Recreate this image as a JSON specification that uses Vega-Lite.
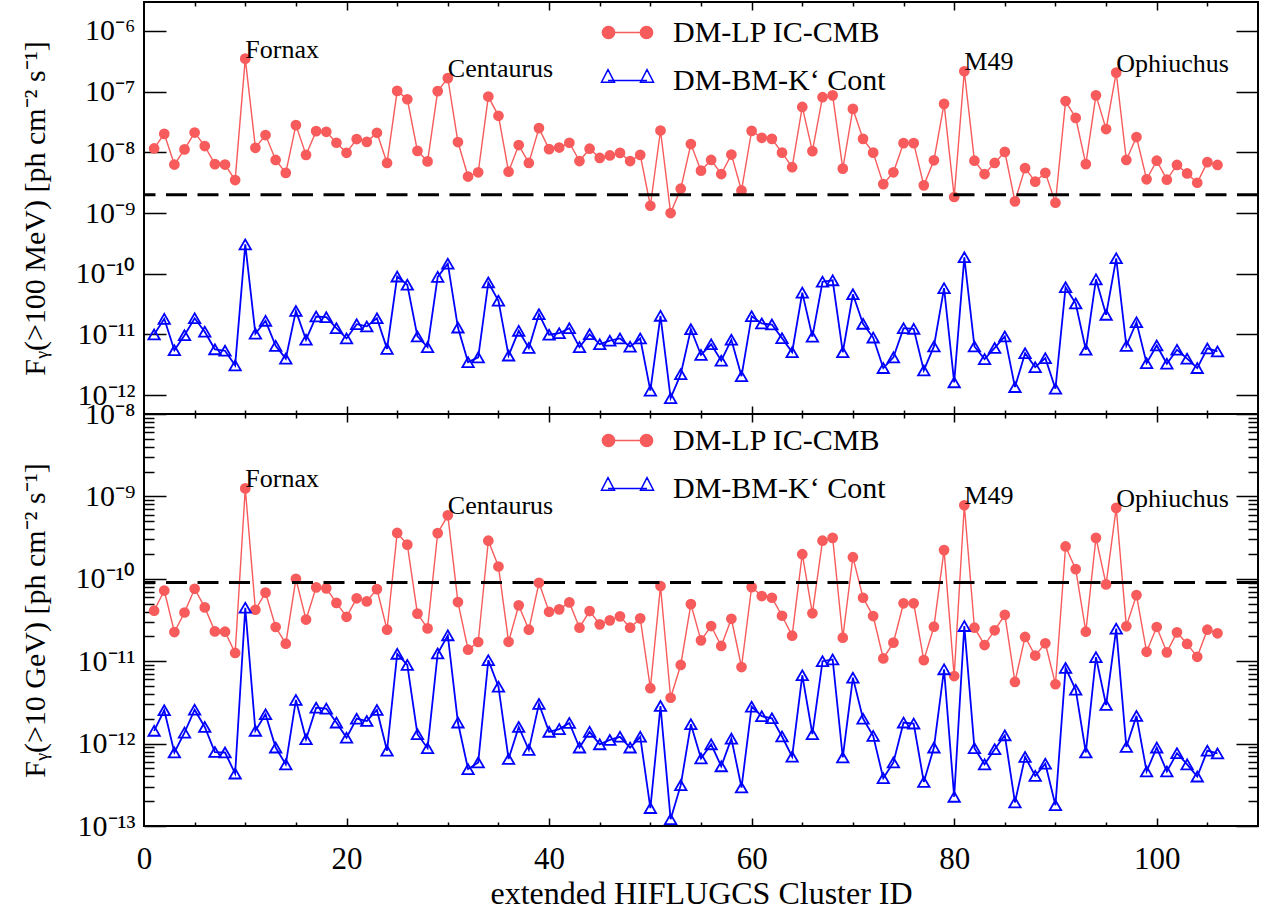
{
  "$schema": "https://vega.github.io/schema/vega-lite/v6.json",
  "background": "white",
  "padding": {"left": 18, "top": 0, "right": 5, "bottom": 2},
  "spacing": 0,
  "bounds": "flush",
  "datasets": {
    "d": [
      {"id":1,"lp100":1.16e-8,"bm100":1.0e-11,"lp10":4.1e-11,"bm10":1.43e-12},
      {"id":2,"lp100":2.02e-8,"bm100":1.81e-11,"lp10":7.2e-11,"bm10":2.54e-12},
      {"id":3,"lp100":6.3e-9,"bm100":5.5e-12,"lp10":2.26e-11,"bm10":7.8e-13},
      {"id":4,"lp100":1.12e-8,"bm100":9.75e-12,"lp10":3.9e-11,"bm10":1.36e-12},
      {"id":5,"lp100":2.12e-8,"bm100":1.85e-11,"lp10":7.57e-11,"bm10":2.58e-12},
      {"id":6,"lp100":1.27e-8,"bm100":1.11e-11,"lp10":4.5e-11,"bm10":1.59e-12},
      {"id":7,"lp100":6.4e-9,"bm100":5.7e-12,"lp10":2.3e-11,"bm10":7.9e-13},
      {"id":8,"lp100":6.3e-9,"bm100":5.4e-12,"lp10":2.28e-11,"bm10":7.8e-13},
      {"id":9,"lp100":3.5e-9,"bm100":3.1e-12,"lp10":1.26e-11,"bm10":4.33e-13},
      {"id":10,"lp100":3.5e-7,"bm100":3.05e-10,"lp10":1.25e-9,"bm10":4.45e-11,"name":"Fornax"},
      {"id":11,"lp100":1.19e-8,"bm100":1.03e-11,"lp10":4.21e-11,"bm10":1.43e-12},
      {"id":12,"lp100":1.93e-8,"bm100":1.68e-11,"lp10":6.8e-11,"bm10":2.27e-12},
      {"id":13,"lp100":7.5e-9,"bm100":6.5e-12,"lp10":2.6e-11,"bm10":8.95e-13},
      {"id":14,"lp100":4.6e-9,"bm100":4.0e-12,"lp10":1.63e-11,"bm10":5.6e-13},
      {"id":15,"lp100":2.81e-8,"bm100":2.45e-11,"lp10":1.0e-10,"bm10":3.39e-12},
      {"id":16,"lp100":9.1e-9,"bm100":8.2e-12,"lp10":3.2e-11,"bm10":1.13e-12},
      {"id":17,"lp100":2.24e-8,"bm100":1.98e-11,"lp10":7.87e-11,"bm10":2.73e-12},
      {"id":18,"lp100":2.18e-8,"bm100":1.93e-11,"lp10":7.66e-11,"bm10":2.66e-12},
      {"id":19,"lp100":1.44e-8,"bm100":1.27e-11,"lp10":5.1e-11,"bm10":1.8e-12},
      {"id":20,"lp100":9.85e-9,"bm100":8.6e-12,"lp10":3.46e-11,"bm10":1.18e-12},
      {"id":21,"lp100":1.66e-8,"bm100":1.48e-11,"lp10":5.8e-11,"bm10":2.01e-12},
      {"id":22,"lp100":1.49e-8,"bm100":1.36e-11,"lp10":5.32e-11,"bm10":1.88e-12},
      {"id":23,"lp100":2.1e-8,"bm100":1.85e-11,"lp10":7.5e-11,"bm10":2.56e-12},
      {"id":24,"lp100":6.7e-9,"bm100":5.8e-12,"lp10":2.41e-11,"bm10":8.2e-13},
      {"id":25,"lp100":1.03e-7,"bm100":9.0e-11,"lp10":3.6e-10,"bm10":1.23e-11},
      {"id":26,"lp100":7.5e-8,"bm100":6.6e-11,"lp10":2.6e-10,"bm10":9.0e-12},
      {"id":27,"lp100":1.06e-8,"bm100":9.3e-12,"lp10":3.78e-11,"bm10":1.3e-12},
      {"id":28,"lp100":7.1e-9,"bm100":6.2e-12,"lp10":2.5e-11,"bm10":8.8e-13},
      {"id":29,"lp100":1.02e-7,"bm100":8.9e-11,"lp10":3.58e-10,"bm10":1.24e-11},
      {"id":30,"lp100":1.67e-7,"bm100":1.47e-10,"lp10":5.9e-10,"bm10":2.06e-11,"name":"Centaurus"},
      {"id":31,"lp100":1.48e-8,"bm100":1.3e-11,"lp10":5.22e-11,"bm10":1.8e-12},
      {"id":32,"lp100":4.0e-9,"bm100":3.5e-12,"lp10":1.38e-11,"bm10":4.9e-13},
      {"id":33,"lp100":4.7e-9,"bm100":4.2e-12,"lp10":1.71e-11,"bm10":5.9e-13},
      {"id":34,"lp100":8.3e-8,"bm100":7.2e-11,"lp10":2.9e-10,"bm10":1.03e-11},
      {"id":35,"lp100":4.0e-8,"bm100":3.6e-11,"lp10":1.41e-10,"bm10":4.9e-12},
      {"id":36,"lp100":4.8e-9,"bm100":4.5e-12,"lp10":1.72e-11,"bm10":6.5e-13},
      {"id":37,"lp100":1.32e-8,"bm100":1.15e-11,"lp10":4.76e-11,"bm10":1.59e-12},
      {"id":38,"lp100":6.7e-9,"bm100":6.0e-12,"lp10":2.41e-11,"bm10":8.4e-13},
      {"id":39,"lp100":2.51e-8,"bm100":2.16e-11,"lp10":8.95e-11,"bm10":3.03e-12},
      {"id":40,"lp100":1.13e-8,"bm100":9.9e-12,"lp10":3.98e-11,"bm10":1.39e-12},
      {"id":41,"lp100":1.2e-8,"bm100":1.05e-11,"lp10":4.26e-11,"bm10":1.5e-12},
      {"id":42,"lp100":1.44e-8,"bm100":1.27e-11,"lp10":5.17e-11,"bm10":1.78e-12},
      {"id":43,"lp100":7.2e-9,"bm100":6.2e-12,"lp10":2.55e-11,"bm10":8.95e-13},
      {"id":44,"lp100":1.15e-8,"bm100":1.01e-11,"lp10":4.06e-11,"bm10":1.39e-12},
      {"id":45,"lp100":8.1e-9,"bm100":6.9e-12,"lp10":2.8e-11,"bm10":9.8e-13},
      {"id":46,"lp100":8.9e-9,"bm100":7.9e-12,"lp10":3.13e-11,"bm10":1.11e-12},
      {"id":47,"lp100":9.8e-9,"bm100":8.6e-12,"lp10":3.5e-11,"bm10":1.21e-12},
      {"id":48,"lp100":7.2e-9,"bm100":6.3e-12,"lp10":2.55e-11,"bm10":8.95e-13},
      {"id":49,"lp100":9.1e-9,"bm100":8.6e-12,"lp10":3.31e-11,"bm10":1.21e-12},
      {"id":50,"lp100":1.32e-9,"bm100":1.19e-12,"lp10":4.7e-12,"bm10":1.65e-13},
      {"id":51,"lp100":2.29e-8,"bm100":2.03e-11,"lp10":8.16e-11,"bm10":2.86e-12},
      {"id":52,"lp100":1.0e-9,"bm100":8.95e-13,"lp10":3.6e-12,"bm10":1.21e-13},
      {"id":53,"lp100":2.52e-9,"bm100":2.22e-12,"lp10":9.0e-12,"bm10":3.13e-13},
      {"id":54,"lp100":1.37e-8,"bm100":1.22e-11,"lp10":4.93e-11,"bm10":1.72e-12},
      {"id":55,"lp100":5.0e-9,"bm100":4.6e-12,"lp10":1.79e-11,"bm10":6.6e-13},
      {"id":56,"lp100":7.5e-9,"bm100":6.9e-12,"lp10":2.67e-11,"bm10":9.8e-13},
      {"id":57,"lp100":4.4e-9,"bm100":3.7e-12,"lp10":1.53e-11,"bm10":5.3e-13},
      {"id":58,"lp100":9.2e-9,"bm100":8.2e-12,"lp10":3.27e-11,"bm10":1.15e-12},
      {"id":59,"lp100":2.36e-9,"bm100":2.06e-12,"lp10":8.5e-12,"bm10":2.93e-13},
      {"id":60,"lp100":2.26e-8,"bm100":2.0e-11,"lp10":7.93e-11,"bm10":2.81e-12},
      {"id":61,"lp100":1.74e-8,"bm100":1.52e-11,"lp10":6.17e-11,"bm10":2.15e-12},
      {"id":62,"lp100":1.67e-8,"bm100":1.46e-11,"lp10":5.89e-11,"bm10":2.03e-12},
      {"id":63,"lp100":9.9e-9,"bm100":8.7e-12,"lp10":3.56e-11,"bm10":1.22e-12},
      {"id":64,"lp100":5.7e-9,"bm100":5.1e-12,"lp10":2.04e-11,"bm10":6.95e-13},
      {"id":65,"lp100":5.6e-8,"bm100":4.9e-11,"lp10":1.99e-10,"bm10":6.75e-12},
      {"id":66,"lp100":1.05e-8,"bm100":9.2e-12,"lp10":3.81e-11,"bm10":1.3e-12},
      {"id":67,"lp100":8.1e-8,"bm100":7.4e-11,"lp10":2.9e-10,"bm10":1.0e-11},
      {"id":68,"lp100":8.7e-8,"bm100":7.8e-11,"lp10":3.14e-10,"bm10":1.05e-11},
      {"id":69,"lp100":5.4e-9,"bm100":5.1e-12,"lp10":1.93e-11,"bm10":6.8e-13},
      {"id":70,"lp100":5.2e-8,"bm100":4.6e-11,"lp10":1.83e-10,"bm10":6.3e-12},
      {"id":71,"lp100":1.67e-8,"bm100":1.5e-11,"lp10":5.89e-11,"bm10":2.01e-12},
      {"id":72,"lp100":9.9e-9,"bm100":8.9e-12,"lp10":3.53e-11,"bm10":1.24e-12},
      {"id":73,"lp100":3.0e-9,"bm100":2.8e-12,"lp10":1.08e-11,"bm10":3.8e-13},
      {"id":74,"lp100":4.7e-9,"bm100":4.2e-12,"lp10":1.68e-11,"bm10":5.9e-13},
      {"id":75,"lp100":1.42e-8,"bm100":1.27e-11,"lp10":5.04e-11,"bm10":1.8e-12},
      {"id":76,"lp100":1.42e-8,"bm100":1.24e-11,"lp10":5.04e-11,"bm10":1.75e-12},
      {"id":77,"lp100":2.86e-9,"bm100":2.56e-12,"lp10":1.03e-11,"bm10":3.43e-13},
      {"id":78,"lp100":7.4e-9,"bm100":6.35e-12,"lp10":2.62e-11,"bm10":8.95e-13},
      {"id":79,"lp100":6.3e-8,"bm100":5.8e-11,"lp10":2.23e-10,"bm10":7.97e-12},
      {"id":80,"lp100":1.84e-9,"bm100":1.63e-12,"lp10":6.6e-12,"bm10":2.26e-13},
      {"id":81,"lp100":2.17e-7,"bm100":1.87e-10,"lp10":7.8e-10,"bm10":2.67e-11,"name":"M49"},
      {"id":82,"lp100":7.3e-9,"bm100":6.35e-12,"lp10":2.55e-11,"bm10":8.8e-13},
      {"id":83,"lp100":4.4e-9,"bm100":3.93e-12,"lp10":1.57e-11,"bm10":5.6e-13},
      {"id":84,"lp100":6.7e-9,"bm100":6.0e-12,"lp10":2.37e-11,"bm10":8.55e-13},
      {"id":85,"lp100":1.02e-8,"bm100":9.3e-12,"lp10":3.66e-11,"bm10":1.26e-12},
      {"id":86,"lp100":1.56e-9,"bm100":1.36e-12,"lp10":5.6e-12,"bm10":1.93e-13},
      {"id":87,"lp100":5.5e-9,"bm100":4.92e-12,"lp10":1.97e-11,"bm10":6.9e-13},
      {"id":88,"lp100":3.3e-9,"bm100":2.9e-12,"lp10":1.17e-11,"bm10":4.06e-13},
      {"id":89,"lp100":4.6e-9,"bm100":4.07e-12,"lp10":1.65e-11,"bm10":5.7e-13},
      {"id":90,"lp100":1.48e-9,"bm100":1.28e-12,"lp10":5.25e-12,"bm10":1.79e-13},
      {"id":91,"lp100":7.0e-8,"bm100":6.0e-11,"lp10":2.47e-10,"bm10":8.3e-12},
      {"id":92,"lp100":3.7e-8,"bm100":3.24e-11,"lp10":1.31e-10,"bm10":4.5e-12},
      {"id":93,"lp100":6.4e-9,"bm100":5.6e-12,"lp10":2.28e-11,"bm10":7.8e-13},
      {"id":94,"lp100":8.7e-8,"bm100":8.1e-11,"lp10":3.14e-10,"bm10":1.12e-11},
      {"id":95,"lp100":2.42e-8,"bm100":2.11e-11,"lp10":8.55e-11,"bm10":2.94e-12},
      {"id":96,"lp100":2.06e-7,"bm100":1.8e-10,"lp10":7.26e-10,"bm10":2.48e-11,"name":"Ophiuchus"},
      {"id":97,"lp100":7.5e-9,"bm100":6.5e-12,"lp10":2.65e-11,"bm10":9.1e-13},
      {"id":98,"lp100":1.79e-8,"bm100":1.59e-11,"lp10":6.34e-11,"bm10":2.17e-12},
      {"id":99,"lp100":3.6e-9,"bm100":3.37e-12,"lp10":1.3e-11,"bm10":4.6e-13},
      {"id":100,"lp100":7.3e-9,"bm100":6.6e-12,"lp10":2.6e-11,"bm10":8.95e-13},
      {"id":101,"lp100":3.55e-9,"bm100":3.3e-12,"lp10":1.28e-11,"bm10":4.6e-13},
      {"id":102,"lp100":6.2e-9,"bm100":5.6e-12,"lp10":2.24e-11,"bm10":7.65e-13},
      {"id":103,"lp100":4.5e-9,"bm100":4.0e-12,"lp10":1.62e-11,"bm10":5.6e-13},
      {"id":104,"lp100":3.16e-9,"bm100":2.8e-12,"lp10":1.13e-11,"bm10":3.98e-13},
      {"id":105,"lp100":6.9e-9,"bm100":5.9e-12,"lp10":2.41e-11,"bm10":8.2e-13},
      {"id":106,"lp100":6.2e-9,"bm100":5.25e-12,"lp10":2.18e-11,"bm10":7.6e-13}
    ]
  },
  "vconcat": [
    {
      "width": 1114,
      "height": 412,
      "data": {"name": "d"},
      "layer": [
        {
          "mark": {"type": "line", "color": "#f75b5b", "strokeWidth": 1.4},
          "encoding": {
            "x": {"field": "id", "type": "quantitative", "scale": {"domain": [0, 110], "nice": false, "zero": false},
              "axis": {"orient": "bottom", "values": [5,10,15,20,25,30,35,40,45,50,55,60,65,70,75,80,85,90,95,100,105], "labels": false, "title": null,
                "tickSize": {"condition": {"test": "datum.value % 20 === 0", "value": -8}, "value": -4}}},
            "y": {"field": "lp100", "type": "quantitative", "scale": {"type": "log", "domain": [4.9e-13, 3.0e-6], "nice": false},
              "axis": {"orient": "left", "values": [1e-12, 1e-11, 1e-10, 1e-9, 1e-8, 1e-7, 1e-6], "ticks": false, "labelPadding": 9,
                "labelExpr": "'10⁻' + (round(-log(datum.value)/LN10) >= 10 ? '¹' : '') + ['⁰','¹','²','³','⁴','⁵','⁶','⁷','⁸','⁹'][round(-log(datum.value)/LN10) % 10]",
                "title": "Fᵧ(>100 MeV) [ph cm⁻² s⁻¹]", "titleX": -109, "titleY": 206, "titleAngle": -90, "titleAlign": "center", "titleBaseline": "middle"}}
          }
        },
        {
          "mark": {"type": "point", "shape": "circle", "filled": true, "color": "#f75b5b", "size": 115, "opacity": 1},
          "encoding": {
            "x": {"field": "id", "type": "quantitative",
              "axis": {"orient": "top", "values": [5,10,15,20,25,30,35,40,45,50,55,60,65,70,75,80,85,90,95,100,105], "labels": false, "title": null,
                "tickSize": {"condition": {"test": "datum.value % 20 === 0", "value": -8}, "value": -4}}},
            "y": {"field": "lp100", "type": "quantitative",
              "axis": {"orient": "left", "values": [1e-12, 1e-11, 1e-10, 1e-9, 1e-8, 1e-7, 1e-6], "labels": false, "title": null, "tickSize": -22}}
          }
        },
        {
          "mark": {"type": "line", "color": "#0000ff", "strokeWidth": 1.8},
          "encoding": {
            "x": {"field": "id", "type": "quantitative", "axis": null},
            "y": {"field": "bm100", "type": "quantitative",
              "axis": {"orient": "right", "values": [1e-12, 1e-11, 1e-10, 1e-9, 1e-8, 1e-7, 1e-6], "labels": false, "title": null, "tickSize": -22}}
          }
        },
        {
          "mark": {"type": "point", "shape": "triangle-up", "filled": false, "color": "#0000ff", "strokeWidth": 1.8, "size": 130, "opacity": 1},
          "encoding": {
            "x": {"field": "id", "type": "quantitative", "axis": null},
            "y": {"field": "bm100", "type": "quantitative", "axis": null}
          }
        },
        {
          "data": {"values": [{"thr": 2e-9}]},
          "mark": {"type": "rule", "color": "black", "strokeWidth": 3, "strokeDash": [21, 10.5]},
          "encoding": {"y": {"field": "thr", "type": "quantitative", "axis": null}}
        },
        {
          "transform": [{"filter": "datum.name"}],
          "mark": {"type": "text", "align": "left", "baseline": "alphabetic", "fontSize": 26, "font": "Liberation Serif", "color": "black", "dy": -1},
          "encoding": {
            "x": {"field": "id", "type": "quantitative", "axis": null},
            "y": {"field": "lp100", "type": "quantitative", "axis": null},
            "text": {"field": "name"}
          }
        },
        {
          "data": {"values": [{"s": "DM-LP IC-CMB"}, {"s": "DM-BM-K‘ Cont"}]},
          "transform": [{"filter": "datum.s == 'none'"}],
          "mark": {"type": "point", "filled": true, "opacity": 1},
          "encoding": {
            "shape": {"field": "s", "type": "nominal",
              "scale": {"domain": ["DM-LP IC-CMB", "DM-BM-K‘ Cont"], "range": ["M-0.745,0H0.745M-0.985,0A0.24,0.24,0,1,1,-0.505,0A0.24,0.24,0,1,1,-0.985,0ZM0.505,0A0.24,0.24,0,1,1,0.985,0A0.24,0.24,0,1,1,0.505,0Z", "M-0.765,0H0.765M-0.765,-0.43L-0.51,0.067L-1.02,0.067ZM0.765,-0.43L1.02,0.067L0.51,0.067Z"]},
              "legend": {"orient": "none", "legendX": 457, "legendY": 4, "title": null, "symbolSize": 2601, "symbolStrokeWidth": 1.5, "labelFont": "Liberation Serif", "labelFontSize": 30, "labelOffset": 19, "labelLimit": 0, "rowPadding": 6, "padding": 0, "labelColor": "black"}},
            "fill": {"field": "s", "type": "nominal",
              "scale": {"domain": ["DM-LP IC-CMB", "DM-BM-K‘ Cont"], "range": ["#f75b5b", "white"]},
              "legend": {"orient": "none", "legendX": 457, "legendY": 4, "title": null, "symbolSize": 2601, "symbolStrokeWidth": 1.5, "labelFont": "Liberation Serif", "labelFontSize": 30, "labelOffset": 19, "labelLimit": 0, "rowPadding": 6, "padding": 0, "labelColor": "black"}},
            "stroke": {"field": "s", "type": "nominal",
              "scale": {"domain": ["DM-LP IC-CMB", "DM-BM-K‘ Cont"], "range": ["#f75b5b", "#0000ff"]},
              "legend": {"orient": "none", "legendX": 457, "legendY": 4, "title": null, "symbolSize": 2601, "symbolStrokeWidth": 1.5, "labelFont": "Liberation Serif", "labelFontSize": 30, "labelOffset": 19, "labelLimit": 0, "rowPadding": 6, "padding": 0, "labelColor": "black"}}
          }
        }
      ],
      "resolve": {"axis": {"x": "independent", "y": "independent"}}
    },
    {
      "width": 1114,
      "height": 412,
      "data": {"name": "d"},
      "layer": [
        {
          "mark": {"type": "line", "color": "#f75b5b", "strokeWidth": 1.4},
          "encoding": {
            "x": {"field": "id", "type": "quantitative", "scale": {"domain": [0, 110], "nice": false, "zero": false},
              "axis": {"orient": "bottom", "values": [0, 20, 40, 60, 80, 100], "ticks": false, "labelPadding": 18, "labelFontSize": 31,
                "title": "extended HIFLUGCS Cluster ID", "titleFontSize": 32, "titlePadding": 4}},
            "y": {"field": "lp10", "type": "quantitative", "scale": {"type": "log", "domain": [1e-13, 1e-8], "nice": false},
              "axis": {"orient": "left", "values": [1e-13, 1e-12, 1e-11, 1e-10, 1e-9, 1e-8], "ticks": false, "labelPadding": 9,
                "labelExpr": "'10⁻' + (round(-log(datum.value)/LN10) >= 10 ? '¹' : '') + ['⁰','¹','²','³','⁴','⁵','⁶','⁷','⁸','⁹'][round(-log(datum.value)/LN10) % 10]",
                "title": "Fᵧ(>10 GeV) [ph cm⁻² s⁻¹]", "titleX": -109, "titleY": 206, "titleAngle": -90, "titleAlign": "center", "titleBaseline": "middle"}}
          }
        },
        {
          "mark": {"type": "point", "shape": "circle", "filled": true, "color": "#f75b5b", "size": 115, "opacity": 1},
          "encoding": {
            "x": {"field": "id", "type": "quantitative",
              "axis": {"orient": "bottom", "values": [5,10,15,20,25,30,35,40,45,50,55,60,65,70,75,80,85,90,95,100,105], "labels": false, "title": null,
                "tickSize": {"condition": {"test": "datum.value % 20 === 0", "value": -8}, "value": -4}}},
            "y": {"field": "lp10", "type": "quantitative",
              "axis": {"orient": "left", "values": [1e-13,2e-13,3e-13,4e-13,5e-13,6e-13,7e-13,8e-13,9e-13,1e-12,2e-12,3e-12,4e-12,5e-12,6e-12,7e-12,8e-12,9e-12,1e-11,2e-11,3e-11,4e-11,5e-11,6e-11,7e-11,8e-11,9e-11,1e-10,2e-10,3e-10,4e-10,5e-10,6e-10,7e-10,8e-10,9e-10,1e-9,2e-9,3e-9,4e-9,5e-9,6e-9,7e-9,8e-9,9e-9,1e-8], "labels": false, "title": null,
                "tickSize": {"condition": {"test": "abs(log(datum.value)/LN10 - round(log(datum.value)/LN10)) < 0.01", "value": -22}, "value": -10}}}
          }
        },
        {
          "mark": {"type": "line", "color": "#0000ff", "strokeWidth": 1.8},
          "encoding": {
            "x": {"field": "id", "type": "quantitative",
              "axis": {"orient": "top", "values": [5,10,15,20,25,30,35,40,45,50,55,60,65,70,75,80,85,90,95,100,105], "labels": false, "title": null,
                "tickSize": {"condition": {"test": "datum.value % 20 === 0", "value": -8}, "value": -4}}},
            "y": {"field": "bm10", "type": "quantitative",
              "axis": {"orient": "right", "values": [1e-13,2e-13,3e-13,4e-13,5e-13,6e-13,7e-13,8e-13,9e-13,1e-12,2e-12,3e-12,4e-12,5e-12,6e-12,7e-12,8e-12,9e-12,1e-11,2e-11,3e-11,4e-11,5e-11,6e-11,7e-11,8e-11,9e-11,1e-10,2e-10,3e-10,4e-10,5e-10,6e-10,7e-10,8e-10,9e-10,1e-9,2e-9,3e-9,4e-9,5e-9,6e-9,7e-9,8e-9,9e-9,1e-8], "labels": false, "title": null,
                "tickSize": {"condition": {"test": "abs(log(datum.value)/LN10 - round(log(datum.value)/LN10)) < 0.01", "value": -22}, "value": -10}}}
          }
        },
        {
          "mark": {"type": "point", "shape": "triangle-up", "filled": false, "color": "#0000ff", "strokeWidth": 1.8, "size": 130, "opacity": 1},
          "encoding": {
            "x": {"field": "id", "type": "quantitative", "axis": null},
            "y": {"field": "bm10", "type": "quantitative", "axis": null}
          }
        },
        {
          "data": {"values": [{"thr": 9e-11}]},
          "mark": {"type": "rule", "color": "black", "strokeWidth": 3, "strokeDash": [21, 10.5]},
          "encoding": {"y": {"field": "thr", "type": "quantitative", "axis": null}}
        },
        {
          "transform": [{"filter": "datum.name"}],
          "mark": {"type": "text", "align": "left", "baseline": "alphabetic", "fontSize": 26, "font": "Liberation Serif", "color": "black", "dy": -1},
          "encoding": {
            "x": {"field": "id", "type": "quantitative", "axis": null},
            "y": {"field": "lp10", "type": "quantitative", "axis": null},
            "text": {"field": "name"}
          }
        },
        {
          "data": {"values": [{"s": "DM-LP IC-CMB"}, {"s": "DM-BM-K‘ Cont"}]},
          "transform": [{"filter": "datum.s == 'none'"}],
          "mark": {"type": "point", "filled": true, "opacity": 1},
          "encoding": {
            "shape": {"field": "s", "type": "nominal",
              "scale": {"domain": ["DM-LP IC-CMB", "DM-BM-K‘ Cont"], "range": ["M-0.745,0H0.745M-0.985,0A0.24,0.24,0,1,1,-0.505,0A0.24,0.24,0,1,1,-0.985,0ZM0.505,0A0.24,0.24,0,1,1,0.985,0A0.24,0.24,0,1,1,0.505,0Z", "M-0.765,0H0.765M-0.765,-0.43L-0.51,0.067L-1.02,0.067ZM0.765,-0.43L1.02,0.067L0.51,0.067Z"]},
              "legend": {"orient": "none", "legendX": 457, "legendY": 0, "title": null, "symbolSize": 2601, "symbolStrokeWidth": 1.5, "labelFont": "Liberation Serif", "labelFontSize": 30, "labelOffset": 19, "labelLimit": 0, "rowPadding": 6, "padding": 0, "labelColor": "black"}},
            "fill": {"field": "s", "type": "nominal",
              "scale": {"domain": ["DM-LP IC-CMB", "DM-BM-K‘ Cont"], "range": ["#f75b5b", "white"]},
              "legend": {"orient": "none", "legendX": 457, "legendY": 0, "title": null, "symbolSize": 2601, "symbolStrokeWidth": 1.5, "labelFont": "Liberation Serif", "labelFontSize": 30, "labelOffset": 19, "labelLimit": 0, "rowPadding": 6, "padding": 0, "labelColor": "black"}},
            "stroke": {"field": "s", "type": "nominal",
              "scale": {"domain": ["DM-LP IC-CMB", "DM-BM-K‘ Cont"], "range": ["#f75b5b", "#0000ff"]},
              "legend": {"orient": "none", "legendX": 457, "legendY": 0, "title": null, "symbolSize": 2601, "symbolStrokeWidth": 1.5, "labelFont": "Liberation Serif", "labelFontSize": 30, "labelOffset": 19, "labelLimit": 0, "rowPadding": 6, "padding": 0, "labelColor": "black"}}
          }
        }
      ],
      "resolve": {"axis": {"x": "independent", "y": "independent"}}
    }
  ],
  "resolve": {
    "scale": {"x": "independent", "y": "independent", "shape": "independent", "fill": "independent", "stroke": "independent"},
    "legend": {"shape": "independent", "fill": "independent", "stroke": "independent"}
  },
  "config": {
    "font": "Liberation Serif",
    "view": {"stroke": "black", "strokeWidth": 2},
    "axis": {"grid": false, "domain": false, "tickColor": "black", "tickWidth": 1.5, "labelColor": "black", "labelFont": "Liberation Serif", "labelFontSize": 30, "titleFont": "Liberation Serif", "titleFontSize": 30, "titleFontWeight": "normal", "titleColor": "black", "labelOverlap": false, "labelFlush": false},
    "legend": {"labelFont": "Liberation Serif"}
  }
}
